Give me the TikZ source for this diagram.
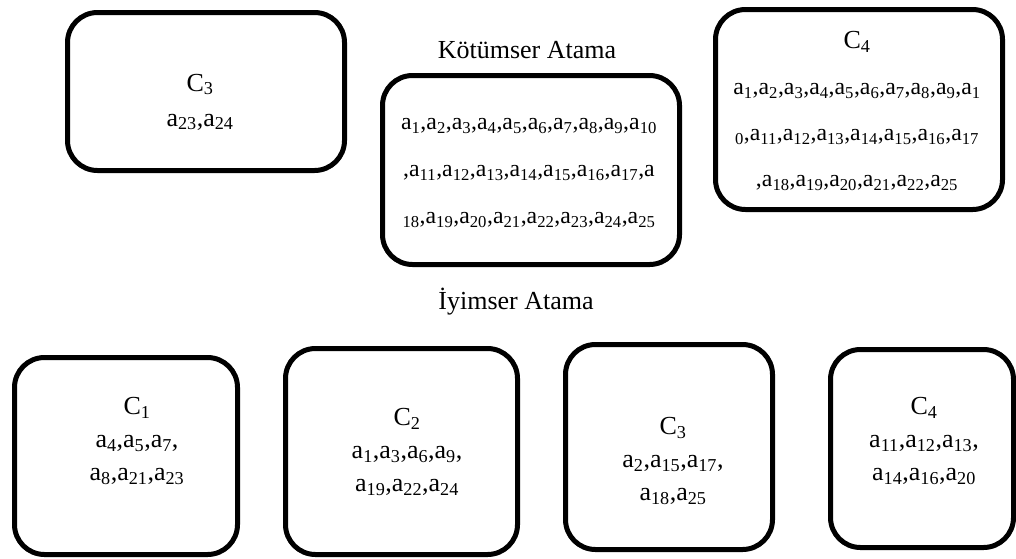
\documentclass[tikz,border=0pt]{standalone}
\usepackage{fontspec}
\setmainfont{Liberation Serif}
\newcommand\ssub[1]{\textsubscript{#1}}
\begin{document}
\begin{tikzpicture}[x=1pt,y=-1pt,
  cbox/.style={draw=black,line width=5pt,rounded corners=30pt,minimum width=#1,inner sep=0pt,fill=white},
  txt/.style={align=center,inner sep=0pt,font=\fontsize{26}{#1}\selectfont},
  bigtxt/.style={align=center,inner sep=0pt,font=\fontsize{23.8}{#1}\selectfont},
  lbl/.style={inner sep=0pt,font=\fontsize{26}{30}\selectfont}]
\useasboundingbox (0,0) rectangle (1016,558);
% top row
\node[cbox=277pt,minimum height=158pt] (tc3) at (206,91.5) {};
\node[txt=35] (tc3t) at (200,102) {C\ssub{3}\\a\ssub{23},a\ssub{24}};
\node[lbl] (kl) at (527,50) {Kötümser Atama};
\node[cbox=297pt,minimum height=189pt] (kb) at (531,170) {};
\node[bigtxt=47] (kt) at (529,173) {a\ssub{1},a\ssub{2},a\ssub{3},a\ssub{4},a\ssub{5},a\ssub{6},a\ssub{7},a\ssub{8},a\ssub{9},a\ssub{10}\\,a\ssub{11},a\ssub{12},a\ssub{13},a\ssub{14},a\ssub{15},a\ssub{16},a\ssub{17},a\\\ssub{18},a\ssub{19},a\ssub{20},a\ssub{21},a\ssub{22},a\ssub{23},a\ssub{24},a\ssub{25}};
\node[cbox=287pt,minimum height=200pt] (tc4) at (859,109.5) {};
\node[bigtxt=46] (tc4t) at (857,111) {{\fontsize{26}{46}\selectfont C\ssub{4}}\\a\ssub{1},a\ssub{2},a\ssub{3},a\ssub{4},a\ssub{5},a\ssub{6},a\ssub{7},a\ssub{8},a\ssub{9},a\ssub{1}\\\ssub{0},a\ssub{11},a\ssub{12},a\ssub{13},a\ssub{14},a\ssub{15},a\ssub{16},a\ssub{17}\\,a\ssub{18},a\ssub{19},a\ssub{20},a\ssub{21},a\ssub{22},a\ssub{25}};
% label
\node[lbl] (il) at (516,302) {İyimser Atama};
% bottom row
\node[cbox=223pt,minimum height=197pt] (b1) at (126,456) {};
\node[txt=33] (b1t) at (137,441) {C\ssub{1}\\a\ssub{4},a\ssub{5},a\ssub{7},\\a\ssub{8},a\ssub{21},a\ssub{23}};
\node[cbox=232pt,minimum height=206pt] (b2) at (401.5,451.5) {};
\node[txt=33] (b2t) at (407,452) {C\ssub{2}\\a\ssub{1},a\ssub{3},a\ssub{6},a\ssub{9},\\a\ssub{19},a\ssub{22},a\ssub{24}};
\node[cbox=207pt,minimum height=205pt] (b3) at (669,447) {};
\node[txt=33] (b3t) at (673,461) {C\ssub{3}\\a\ssub{2},a\ssub{15},a\ssub{17},\\a\ssub{18},a\ssub{25}};
\node[cbox=183pt,minimum height=198pt] (b4) at (922,448.5) {};
\node[txt=33] (b4t) at (924,441) {C\ssub{4}\\a\ssub{11},a\ssub{12},a\ssub{13},\\a\ssub{14},a\ssub{16},a\ssub{20}};
\end{tikzpicture}
\end{document}
